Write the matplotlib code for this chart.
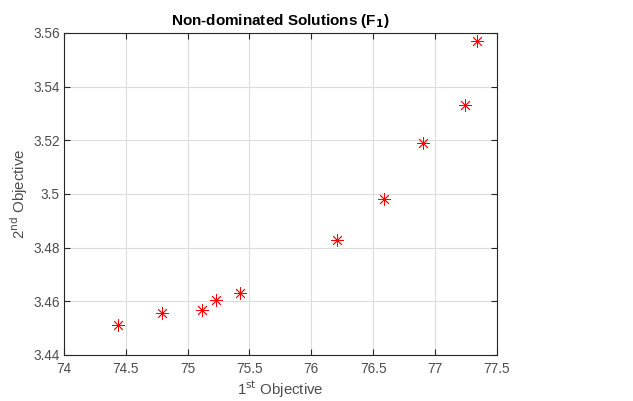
import matplotlib.pyplot as plt

plt.rcParams["font.family"] = ["Liberation Sans", "DejaVu Sans"]

# values
obj1 = [74.44, 74.795, 75.12, 75.232, 75.427, 76.204, 76.59, 76.905, 77.243, 77.336]
obj2 = [3.4511, 3.4556, 3.4567, 3.4606, 3.4629, 3.4828, 3.4982, 3.5189, 3.5330, 3.5570]

xticks = [74, 74.5, 75, 75.5, 76, 76.5, 77, 77.5]
xticklabels = ["74", "74.5", "75", "75.5", "76", "76.5", "77", "77.5"]
yticks = [3.44, 3.46, 3.48, 3.50, 3.52, 3.54, 3.56]
yticklabels = ["3.44", "3.46", "3.48", "3.5", "3.52", "3.54", "3.56"]

dark = "#262626"
grey = "#4d4d4d"

fig = plt.figure(figsize=(6.33, 4.01), dpi=100)
ax = fig.add_axes([0.101, 0.115, 0.684, 0.803])

# red asterisks like matlab '*'
ax.plot(obj1, obj2, linestyle="none", marker=(8, 2, 0), color="#ff0000",
        markersize=9, markeredgewidth=0.6)

ax.set_xlim(74, 77.5)
ax.set_ylim(3.44, 3.56)
ax.set_xticks(xticks)
ax.set_xticklabels(xticklabels)
ax.set_yticks(yticks)
ax.set_yticklabels(yticklabels)

ax.grid(True, color="#dcdcdc", linewidth=0.8)
ax.set_axisbelow(True)
ax.tick_params(direction="in", top=True, right=True, length=4, width=0.8,
               colors=dark, labelcolor=grey, labelsize=9.8, pad=3)
ax.tick_params(axis="x", pad=5)
for spine in ax.spines.values():
    spine.set_color(dark)
    spine.set_linewidth(0.8)

ax.set_title("Non-dominated Solutions (F$_\\mathbf{1}$)", fontsize=11,
             fontweight="bold", color="#000000", pad=6)
ax.set_xlabel("1$^{\\mathrm{st}}$ Objective", fontsize=10.8, color=grey, labelpad=2)
ax.set_ylabel("2$^{\\mathrm{nd}}$ Objective", fontsize=10.8, color=grey, labelpad=2)

plt.savefig("out.png", dpi=100)
plt.close()
